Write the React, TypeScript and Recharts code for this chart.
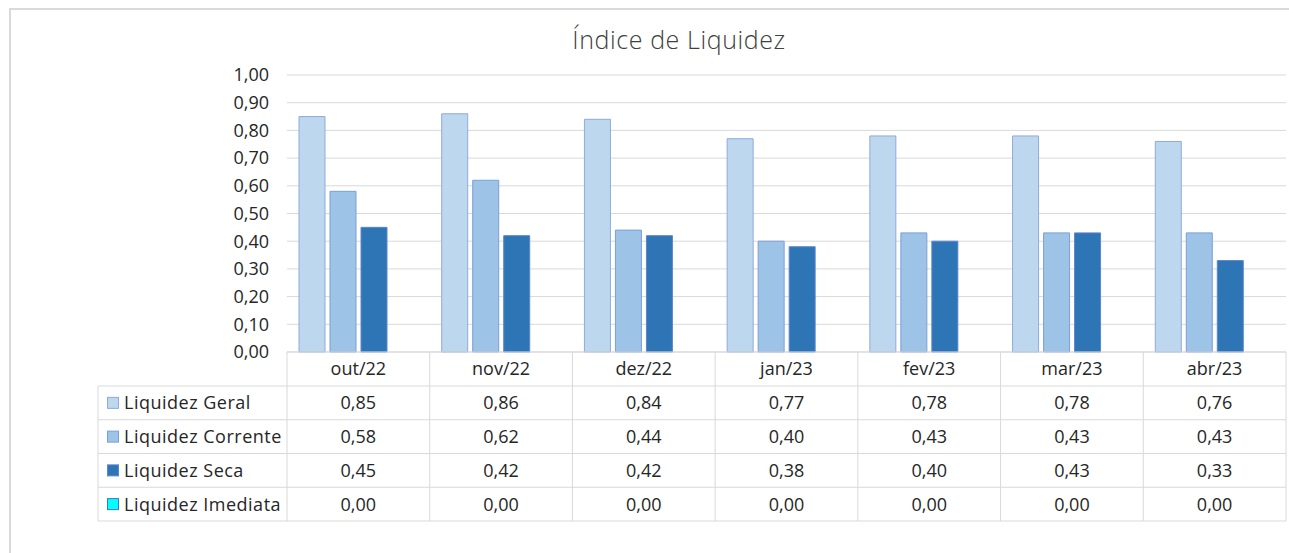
import { BarChart, Bar, XAxis, YAxis, CartesianGrid } from "recharts";

const months = ["out/22", "nov/22", "dez/22", "jan/23", "fev/23", "mar/23", "abr/23"];
const geral = [0.85, 0.86, 0.84, 0.77, 0.78, 0.78, 0.76];
const corrente = [0.58, 0.62, 0.44, 0.4, 0.43, 0.43, 0.43];
const seca = [0.45, 0.42, 0.42, 0.38, 0.4, 0.43, 0.33];
const imediata = [0, 0, 0, 0, 0, 0, 0];
const yTicks = [0, 0.1, 0.2, 0.3, 0.4, 0.5, 0.6, 0.7, 0.8, 0.9, 1];

const series = [
  { key: "geral", name: "Liquidez Geral", values: geral, fill: "#bdd7ee", stroke: "#8faadc" },
  { key: "corrente", name: "Liquidez Corrente", values: corrente, fill: "#9dc3e6", stroke: "#7b9fd8" },
  { key: "seca", name: "Liquidez Seca", values: seca, fill: "#2e75b6", stroke: "#5a86cc" },
  { key: "imediata", name: "Liquidez Imediata", values: imediata, fill: "#00ffff", stroke: "#4472c4" },
];

const data = months.map((m, i) => {
  const row: Record<string, string | number> = { month: m };
  series.forEach((s) => (row[s.key] = s.values[i]));
  return row;
});

const FONT = "'Open Sans', 'Noto Sans', sans-serif";
const fmt = (v: number) => v.toFixed(2).replace(".", ",");

// layout (chart coords, chart starts at page x=11, y=10)
const W = 1290;
const H = 543;
const AXIS_W = 276;
const RIGHT = 15;
const cellW = (W - AXIS_W - RIGHT) / months.length;
const headerH = 34;
const rowH = 33.75;
const legendW = 189;
const GRID = "#d9d9d9";
const TEXT = "#262626";

function TableTick(props: any) {
  const { x, y, payload } = props;
  const i = payload.index;
  const xl = x - cellW / 2;
  const bottom = y + headerH + rowH * series.length;
  return (
    <g>
      <line x1={xl} x2={xl} y1={y} y2={bottom} stroke={GRID} />
      {i === months.length - 1 && <line x1={xl + cellW} x2={xl + cellW} y1={y} y2={bottom} stroke={GRID} />}
      <line x1={xl} x2={xl + cellW} y1={y} y2={y} stroke={GRID} />
      <text x={x} y={y + headerH / 2 + 6} textAnchor="middle" fontSize={18} fill={TEXT} fontFamily={FONT}>
        {payload.value}
      </text>
      {series.map((s, r) => {
        const top = y + headerH + rowH * r;
        return (
          <g key={s.key}>
            <line x1={xl} x2={xl + cellW} y1={top} y2={top} stroke={GRID} />
            <text x={x} y={top + rowH / 2 + 6.5} textAnchor="middle" fontSize={18} fill={TEXT} fontFamily={FONT}>
              {fmt(s.values[i])}
            </text>
          </g>
        );
      })}
      <line x1={xl} x2={xl + cellW} y1={bottom} y2={bottom} stroke={GRID} />
      {i === 0 && (
        <g>
          <line x1={xl - legendW} x2={xl - legendW} y1={y + headerH} y2={bottom} stroke={GRID} />
          {series.map((s, r) => {
            const top = y + headerH + rowH * r;
            return (
              <g key={s.key}>
                <line x1={xl - legendW} x2={xl} y1={top} y2={top} stroke={GRID} />
                <rect x={xl - legendW + 9.5} y={top + rowH / 2 - 5.5} width={11} height={11} fill={s.fill} stroke={s.stroke} />
                <text
                  x={xl - legendW + 26}
                  y={top + rowH / 2 + 6.5}
                  fontSize={18}
                  letterSpacing={0.5}
                  fill={TEXT}
                  fontFamily={FONT}
                >
                  {s.name}
                </text>
              </g>
            );
          })}
          <line x1={xl - legendW} x2={xl} y1={bottom} y2={bottom} stroke={GRID} />
        </g>
      )}
    </g>
  );
}

export default function App() {
  return (
    <div style={{ position: "fixed", left: 0, top: 0, width: 1289, height: 553, overflow: "hidden", background: "#fff" }}>
      <div
        style={{
          position: "absolute",
          left: 9,
          top: 8,
          width: 1300,
          height: 560,
          borderLeft: `2px solid ${GRID}`,
          borderTop: `2px solid ${GRID}`,
        }}
      >
        <div
          style={{
            position: "absolute",
            left: 0,
            width: 1336,
            top: 12,
            textAlign: "center",
            fontFamily: FONT,
            fontWeight: 300,
            fontSize: 25,
            letterSpacing: 0.6,
            color: "#404040",
          }}
        >
          Índice de Liquidez
        </div>
        <BarChart
          width={W}
          height={H}
          data={data}
          margin={{ top: 65, right: RIGHT, left: 0, bottom: 21 }}
          barCategoryGap={12}
          barGap={5}
        >
          <CartesianGrid vertical={false} stroke={GRID} />
          <YAxis
            width={AXIS_W}
            domain={[0, 1]}
            ticks={yTicks}
            tickFormatter={fmt}
            axisLine={false}
            tickLine={false}
            tickSize={0}
            tickMargin={18}
            tick={{ fontSize: 18, fill: TEXT, fontFamily: FONT }}
          />
          <XAxis
            dataKey="month"
            height={180}
            axisLine={false}
            tickLine={false}
            tickSize={0}
            tickMargin={0}
            interval={0}
            tick={<TableTick />}
          />
          {series.map((s) => (
            <Bar key={s.key} dataKey={s.key} name={s.name} fill={s.fill} stroke={s.stroke} strokeWidth={1} isAnimationActive={false} />
          ))}
        </BarChart>
      </div>
    </div>
  );
}
